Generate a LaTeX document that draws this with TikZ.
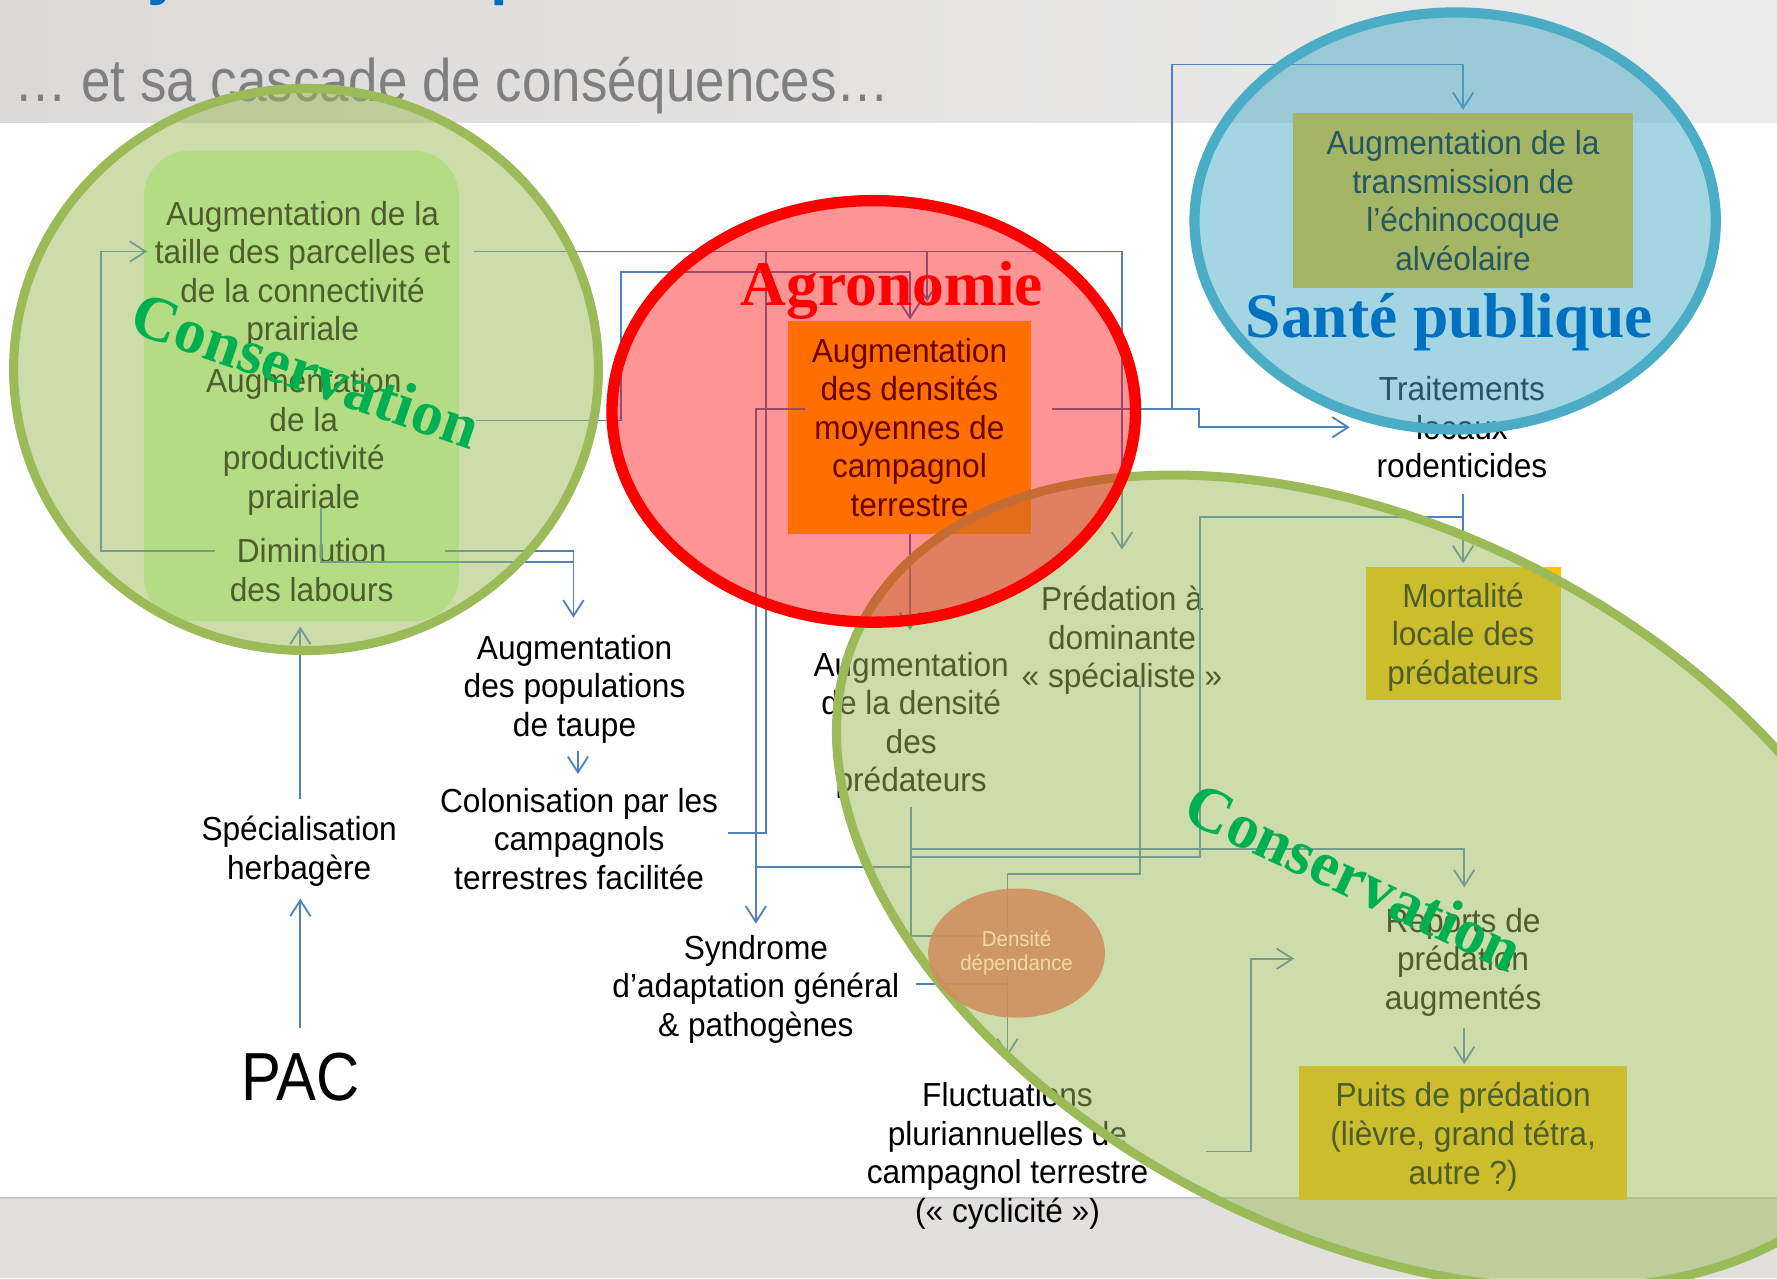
\documentclass[tikz,border=0pt]{standalone}
\usepackage{fontspec}
\setmainfont{Liberation Sans}
\newfontfamily\nrw{Liberation Sans}[FakeStretch=0.95]
\newfontfamily\ttlfont{Liberation Sans}[FakeStretch=0.88]
\newfontfamily\serb{Liberation Serif}
\usetikzlibrary{arrows.meta,shapes.geometric}
\definecolor{gold}{HTML}{FFC000}
\definecolor{grn}{HTML}{9BBB59}
\definecolor{blc}{HTML}{4BACC6}
\definecolor{lnc}{HTML}{4F81BD}
\definecolor{consgreen}{HTML}{00B050}
\definecolor{santeblue}{HTML}{0070C0}
\definecolor{ttl}{HTML}{7F7F7F}
\definecolor{bandL}{HTML}{DCDAD8}
\definecolor{bandR}{HTML}{ECECEC}
\definecolor{bandB}{HTML}{E1E0DE}
\definecolor{bandLine}{HTML}{C8C8C8}
\definecolor{leftbox}{HTML}{CFFFB1}
\definecolor{ddc}{HTML}{D08E5C}
\definecolor{ddt}{HTML}{F3D9A6}
\begin{document}
\begin{tikzpicture}[x=0.5pt,y=-0.5pt,
  txt/.style={font=\nrw\fontsize{14.7}{17}\selectfont, align=center, inner sep=0pt, text=black, yshift=-1.5pt},
  goldbox/.style={font=\nrw\fontsize{14.7}{17}\selectfont, align=center, inner sep=0pt, text=black, fill=gold},
  ln/.style={draw=lnc, line width=0.8pt},
  arr/.style={ln, -{Straight Barb[length=7pt,width=9pt]}},
  biglbl/.style={font=\serb\bfseries\fontsize{28}{32}\selectfont, inner sep=0pt, anchor=base},
  ellg/.style={fill=grn, fill opacity=0.5, draw=grn, line width=4pt}
]
\useasboundingbox (0,0) rectangle (1568,1128);
\clip (0,0) rectangle (1568,1128);
% background
\fill[white] (0,0) rectangle (1568,1128);
\shade[left color=bandL, right color=bandR] (0,0) rectangle (1568,108);
\fill[bandB] (0,1057) rectangle (1568,1128);
\draw[bandLine, line width=1.2pt] (0,1057) -- (1568,1057);
\node[font=\bfseries\fontsize{28}{30}\selectfont, text=santeblue, anchor=base west, inner sep=0pt] (tity) at (130,-7) {y};
\node[font=\bfseries\fontsize{28}{30}\selectfont, text=santeblue, anchor=base west, inner sep=0pt] (titp) at (432,-7) {p};
\node[font=\ttlfont\fontsize{26.5}{30}\selectfont, text=ttl, anchor=base west, inner sep=0pt] (title) at (12,90) {… et sa cascade de conséquences…};

% boxes
\fill[leftbox, rounded corners=20pt] (127,133) rectangle (405,548);
\node[goldbox, minimum width=107.5pt, minimum height=94pt] (dens) at (802.5,377) {Augmentation\\des densités\\moyennes de\\campagnol\\terrestre};
\node[goldbox, minimum width=150pt, minimum height=77pt] (trans) at (1291,177) {Augmentation de la\\transmission de\\l’échinocoque\\alvéolaire};
\node[goldbox, minimum width=86pt, minimum height=59pt] (mort) at (1291,559) {};
\node[txt] (morttxt) at (mort.center) {Mortalité\\locale des\\prédateurs};
\node[goldbox, minimum width=145pt, minimum height=59pt] (puits) at (1291,1000) {};
\node[txt] (puitstxt) at (puits.center) {Puits de prédation\\(lièvre, grand tétra,\\autre ?)};

% texts
\node[txt] (taille) at (267,239) {Augmentation de la\\taille des parcelles et\\de la connectivité\\prairiale};
\node[txt] (prod) at (268,387) {Augmentation\\de la\\productivité\\prairiale};
\node[txt] (dimin) at (275,500) {Diminution\\des labours};
\node[txt] (taupe) at (507,605) {Augmentation\\des populations\\de taupe};
\node[txt] (colon) at (511,737) {Colonisation par les\\campagnols\\terrestres facilitée};
\node[txt] (spec) at (264,748) {Spécialisation\\herbagère};
\node[font=\ttlfont\fontsize{30}{33}\selectfont, inner sep=0pt, anchor=base] (pac) at (265,971) {PAC};
\node[txt] (pred) at (990,562) {Prédation à\\dominante\\« spécialiste »};
\node[txt] (predat) at (804,637) {Augmentation\\de la densité\\des\\prédateurs};
\node[txt] (synd) at (667,870) {Syndrome\\d’adaptation général\\\& pathogènes};
\node[txt] (fluct) at (889,1017) {Fluctuations\\pluriannuelles de\\campagnol terrestre\\(« cyclicité »)};
\node[txt] (rep) at (1291,846) {Reports de\\prédation\\augmentés};
\node[txt] (trait) at (1290,374) {Traitements\\locaux\\rodenticides};

% connector ports
\coordinate (dimin-w) at (190,486);
\coordinate (dimin-e) at (393,486);
\coordinate (dimin-s) at (265,553);
\coordinate (taille-w) at (130,222);
\coordinate (taille-e) at (418,222);
\coordinate (prod-s) at (283,448);
\coordinate (prod-e) at (420,371);
\coordinate (taupe-n) at (506,545);
\coordinate (taupe-s) at (510,663);
\coordinate (colon-n) at (510,683);
\coordinate (colon-e) at (642,735);
\coordinate (spec-n) at (265,705);
\coordinate (spec-s) at (265,793);
\coordinate (pac-n) at (265,907);
\coordinate (pred-n) at (990,485);
\coordinate (pred-s) at (1006,605);
\coordinate (dens-n) at (803,282);
\coordinate (dens-n2) at (818,266);
\coordinate (dens-w) at (710,361);
\coordinate (dens-e) at (928,361);
\coordinate (dens-s) at (803,471);
\coordinate (predat-n) at (803,556);
\coordinate (predat-s) at (804,712);
\coordinate (synd-n) at (667,815);
\coordinate (synd-e) at (808,868);
\coordinate (fluct-n) at (889,932);
\coordinate (fluct-e) at (1064,1016);
\coordinate (rep-n) at (1292,783);
\coordinate (rep-w) at (1142,846);
\coordinate (rep-s) at (1292,907);
\coordinate (puits-n) at (1292,939);
\coordinate (trait-w) at (1191,377);
\coordinate (trait-s) at (1291,436);
\coordinate (mort-n) at (1291,497);
\coordinate (trans-n) at (1291,97);
\coordinate (j1) at (506,496);
\coordinate (j2) at (818,222);
\coordinate (j3) at (676,222);
\coordinate (j4) at (548,240);
\coordinate (j5) at (667,765);
\coordinate (j6) at (804,765);
\coordinate (j7) at (889,826);
\coordinate (j8) at (804,749);
\coordinate (j9) at (804,756);
\coordinate (j10) at (1059,456);
\coordinate (j11) at (1291,456);
\coordinate (j12) at (889,771);
\coordinate (j13) at (889,868);
\coordinate (j14) at (1104,846);
\coordinate (j15) at (1058,377);
\coordinate (j16) at (1034,361);
\coordinate (j17) at (1291,57);

% connectors
\draw[arr] (dimin-w) -- ++(-101,0) |- (taille-w);
\draw[arr] (dimin-e) -| (taupe-n);
\draw[ln] (prod-s) |- (j1);
\draw[arr] (taille-e) -| (pred-n);
\draw[arr] (j2) -- (dens-n2);
\draw[ln] (colon-e) -| (j3);
\draw[arr] (prod-e) -| (j4) -| (dens-n);
\draw[arr] (dens-w) -| (synd-n);
\draw[ln] (j5) -- (j6);
\draw[arr] (dens-s) -- (predat-n);
\draw[ln] (predat-s) |- (j7);
\draw[arr] (j8) -| (rep-n);
\draw[ln] (j9) -| (j10) -- (j11);
\draw[arr] (trait-s) -- (mort-n);
\draw[arr] (pred-s) |- (j12) -- (fluct-n);
\draw[ln] (synd-e) -- (j13);
\draw[arr] (fluct-e) -| (j14) -- (rep-w);
\draw[arr] (rep-s) -- (puits-n);
\draw[arr] (dens-e) -| (j15) -- (trait-w);
\draw[arr] (j16) |- (j17) -- (trans-n);
\draw[arr] (spec-n) -- (dimin-s);
\draw[arr] (pac-n) -- (spec-s);
\draw[arr] (taupe-s) -- (colon-n);

% overlay ellipses
\path[ellg, rotate around={-26.6:(1210,778)}] (1210,778) ellipse [x radius=504, y radius=312];
\path[ellg] (270,326) ellipse [x radius=258, y radius=248];
\node[ellipse, fill=ddc, fill opacity=0.88, text opacity=1, text=ddt, minimum width=78pt, minimum height=57pt, inner sep=0pt, align=center, font=\nrw\fontsize{9.5}{10.5}\selectfont] (dd) at (897,841) {Densité\\dépendance};
\path[fill=red, fill opacity=0.42, draw=red, line width=5pt] (771,363) ellipse [x radius=231, y radius=186];
\path[fill=blc, fill opacity=0.5, draw=blc, line width=4.5pt] (1284,195) ellipse [x radius=230, y radius=184];

% labels
\node[biglbl, text=consgreen, rotate=-19] (cons1) at (264,345) {Conservation};
\node[biglbl, text=consgreen, rotate=-25] (cons2) at (1187,791) {Conservation};
\node[biglbl, text=red] (agro) at (787,270) {Agronomie};
\node[biglbl, text=santeblue] (sante) at (1279,298) {Santé publique};
\end{tikzpicture}
\end{document}
